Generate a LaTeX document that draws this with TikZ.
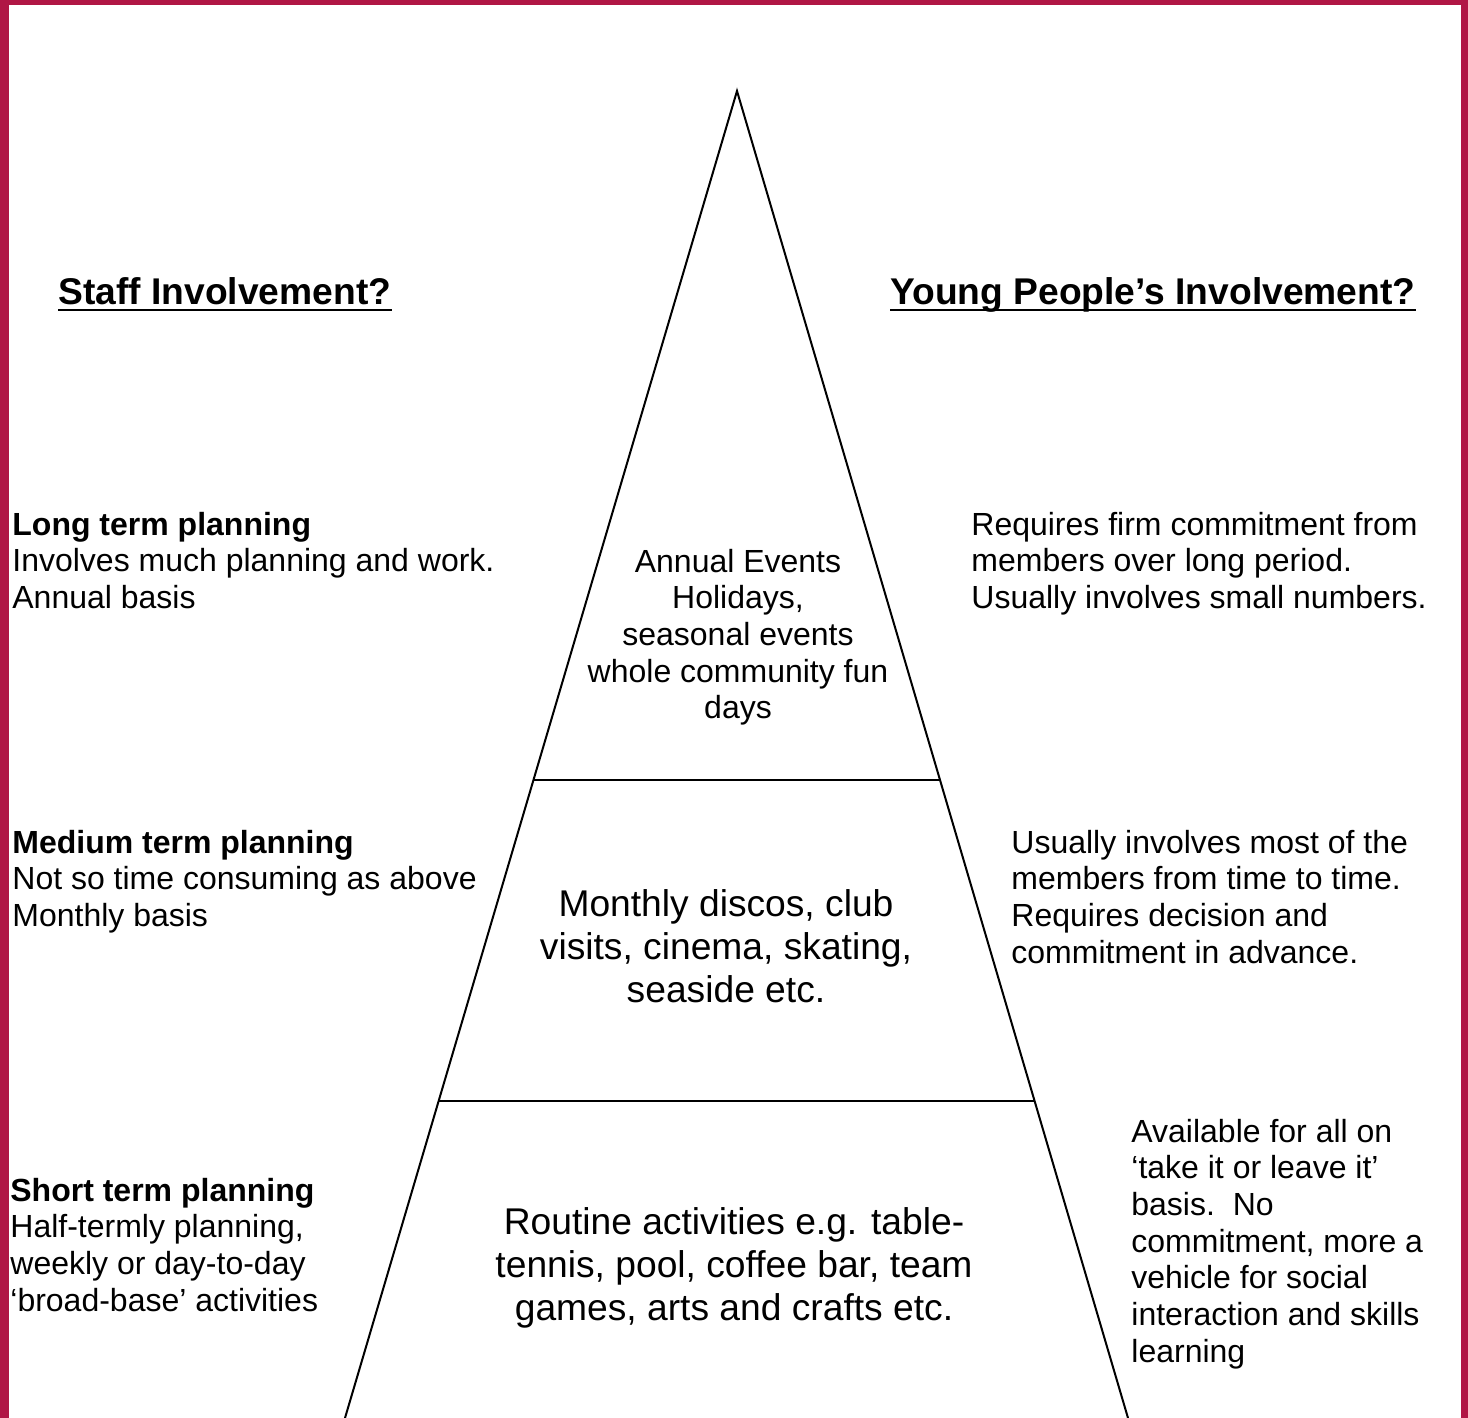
\documentclass[tikz,border=0pt]{standalone}
\usepackage{fontspec}
\setmainfont{Liberation Sans}[Ligatures={NoCommon,TeX}]
\usetikzlibrary{calc}
\definecolor{framecol}{RGB}{176,22,69}
\newcommand\myL[1]{\begin{tabular}[t]{@{}l@{}}#1\end{tabular}}
\newcommand\myC[1]{\begin{tabular}[t]{@{}c@{}}#1\end{tabular}}
\begin{document}
\begin{tikzpicture}[x=0.5pt,y=-0.5pt,
  body/.style={font=\fontsize{16}{18.35}\selectfont, inner sep=0pt, anchor=base west},
  mid/.style={font=\fontsize{16}{18.35}\selectfont, inner sep=0pt, anchor=base},
  large/.style={font=\fontsize{18.6}{21.5}\selectfont, inner sep=0pt, anchor=base},
  head/.style={font=\fontsize{18.6}{21.5}\selectfont\bfseries, inner sep=0pt, anchor=base west},
  side/.style={line width=1pt},
  tier/.style={line width=0.9pt},
  ulin/.style={line width=1.4pt}]
\useasboundingbox (0,0) rectangle (1468,1418);
% frame bars
\fill[framecol] (0,0) rectangle (9,1418);
\fill[framecol] (0,0) rectangle (1468,5.5);
\fill[framecol] (1461,0) rectangle (1468,1418);
% pyramid
\coordinate (apex) at (737,91);
\coordinate (bl) at (345,1418);
\coordinate (br) at (1128,1418);
\draw[side] (bl) -- (apex) -- (br);
\coordinate (l1) at ($(apex)!0.5192!(bl)$);
\coordinate (r1) at ($(apex)!0.5192!(br)$);
\coordinate (l2) at ($(apex)!0.7611!(bl)$);
\coordinate (r2) at ($(apex)!0.7611!(br)$);
\draw[tier] (l1) -- (r1);
\draw[tier] (l2) -- (r2);
% headings
\node[head] (staff) at (58,304) {Staff Involvement?};
\node[head] (young) at (890,304) {Young People’s Involvement?};
\draw[ulin] ($(staff.base west)+(0,6)$) -- ($(staff.base east)+(0,6)$);
\draw[ulin] ($(young.base west)+(0,6)$) -- ($(young.base east)+(0,6)$);
% left column
\node[body] (long) at (12,535) {\myL{\textbf{Long term planning}\\Involves much planning and work.\\Annual basis}};
\node[body] (medium) at (12,853) {\myL{\textbf{Medium term planning}\\Not so time consuming as above\\Monthly basis}};
\node[body] (short) at (10,1201) {\myL{\textbf{Short term planning}\\Half-termly planning,\\weekly or day-to-day\\‘broad-base’ activities}};
% right column
\node[body] (rlong) at (971,535) {\myL{Requires firm commitment from\\members over long period.\\Usually involves small numbers.}};
\node[body] (rmed) at (1011,853) {\myL{Usually involves most of the\\members from time to time.\\Requires decision and\\commitment in advance.}};
\node[body] (rshort) at (1131,1142) {\myL{Available for all on\\‘take it or leave it’\\basis.\ \ No\\commitment, more a\\vehicle for social\\interaction and skills\\learning}};
% pyramid contents
\node[mid] (annual) at (738,572) {\myC{Annual Events\\Holidays,\\seasonal events\\whole community fun\\days}};
\node[large] (monthly) at (726,916) {\myC{Monthly discos, club\\visits, cinema, skating,\\seaside etc.}};
\node[large] (routine) at (734,1234) {\myC{Routine activities e.g. table-\\tennis, pool, coffee bar, team\\games, arts and crafts etc.}};
\end{tikzpicture}
\end{document}
